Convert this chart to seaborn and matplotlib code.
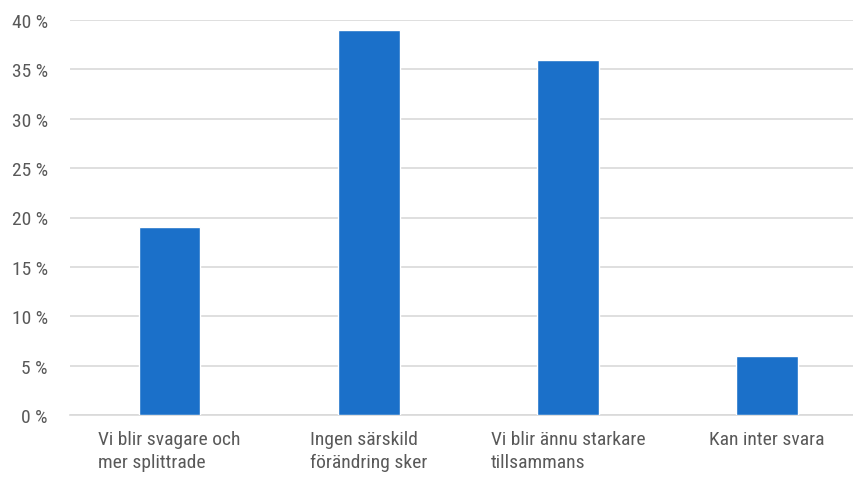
import matplotlib
matplotlib.use("Agg")
import matplotlib.pyplot as plt
from matplotlib import font_manager
import seaborn as sns
import pandas as pd

categories = ["Vi blir svagare och\nmer splittrade", "Ingen särskild\nförändring sker",
              "Vi blir ännu starkare\ntillsammans", "Kan inter svara"]
values = [19, 39, 36, 6]
yticks = [0, 5, 10, 15, 20, 25, 30, 35, 40]

sns.set_theme(style="white")
installed = {f.name for f in font_manager.fontManager.ttflist}
family = "Roboto"
for cand in ["Roboto Condensed", "Liberation Sans Narrow", "Open Sans Condensed",
             "Noto Sans Condensed", "DejaVu Sans Condensed"]:
    if cand in installed:
        family = cand
        break
plt.rcParams['font.family'] = [family, 'DejaVu Sans']

df = pd.DataFrame({"cat": categories, "val": values})

fig = plt.figure(figsize=(8.54, 4.81), dpi=100)
ax = fig.add_axes([70 / 854, 65 / 481, 1 - 70 / 854, 395 / 481])
sns.barplot(data=df, x="cat", y="val", color="#1B70C9", width=0.31,
            saturation=1, ax=ax, zorder=3)

ax.set_ylim(0, 40)
ax.set_xlim(-0.5, 3.437)
ax.set_yticks(yticks)
ax.set_yticklabels([f"{t} %" for t in yticks])
ax.yaxis.grid(True, color="#d9d9d9", linewidth=1.2, zorder=0)
for s in ["top", "right", "left"]:
    ax.spines[s].set_visible(False)
ax.spines["bottom"].set_color("#d9d9d9")
ax.spines["bottom"].set_linewidth(1.2)
ax.set_xlabel("")
ax.set_ylabel("")
ax.tick_params(axis="y", length=0, pad=16, labelsize=14, labelcolor="#595959")
ax.tick_params(axis="x", length=0, pad=11, labelsize=14, labelcolor="#595959")
for lbl in ax.get_xticklabels():
    lbl.set_multialignment("left")
    lbl.set_verticalalignment("top")
    lbl.set_linespacing(1.35)

fig.savefig("out.png", dpi=100)
